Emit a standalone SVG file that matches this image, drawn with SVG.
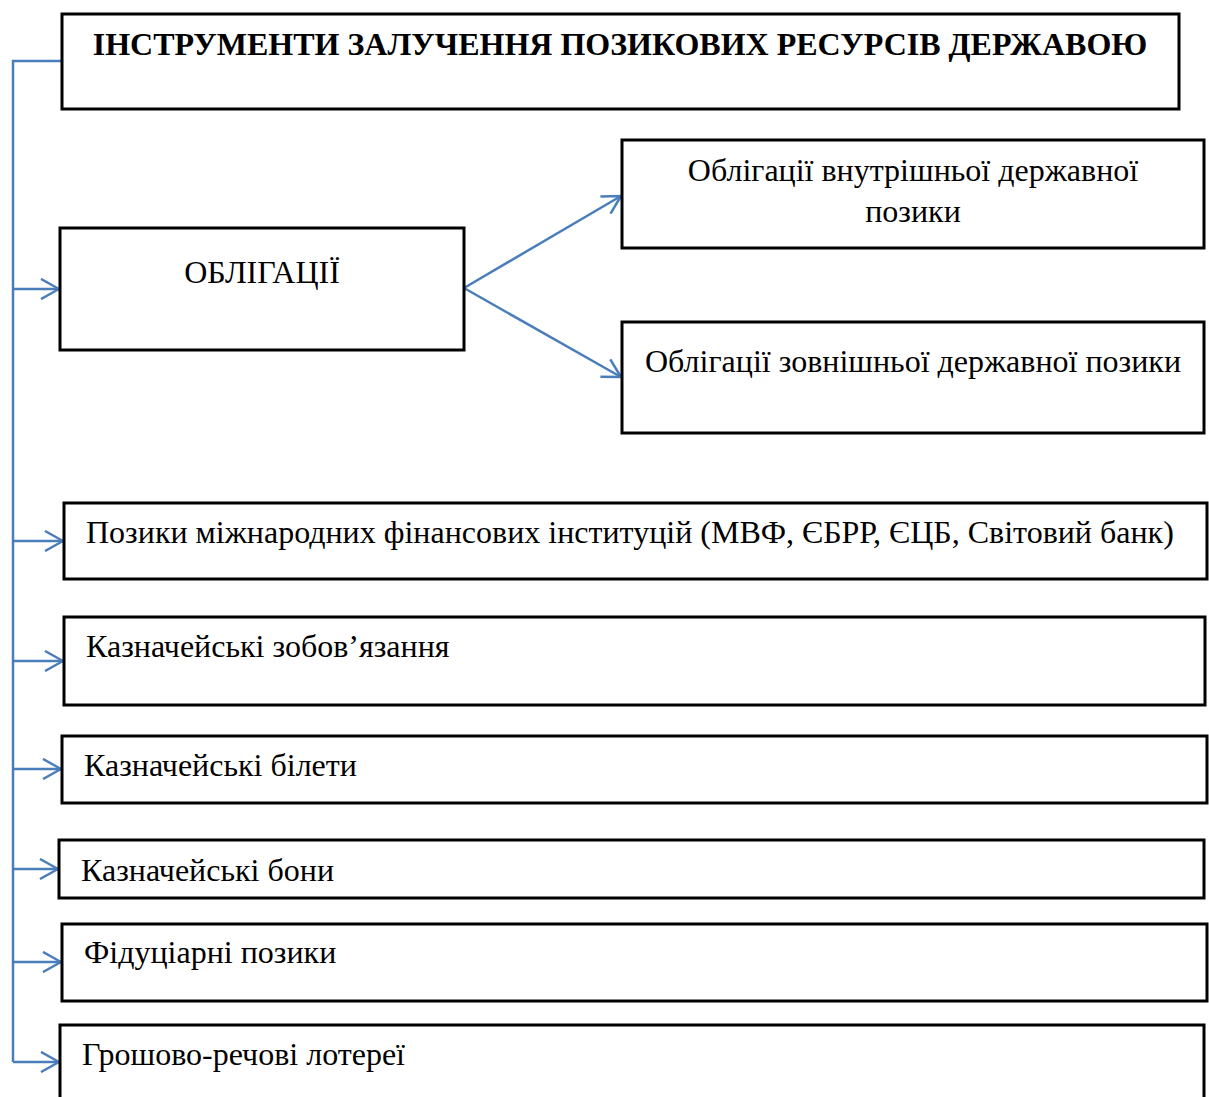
<svg xmlns="http://www.w3.org/2000/svg" width="1209" height="1097" viewBox="0 0 1209 1097">
<defs>
<style>
.box{fill:#fff;stroke:#000;stroke-width:3}
.t{font-family:"Liberation Serif","Times New Roman",serif;font-size:32px;fill:#000}
.b{font-weight:bold}
.c{stroke:#4A7EBB;stroke-width:2.5;fill:none}
</style>
<marker id="arr" viewBox="0 0 20 22" refX="19" refY="11" markerWidth="20" markerHeight="22" markerUnits="userSpaceOnUse" orient="auto">
<path d="M1,1 L19,11 L1,21" fill="none" stroke="#4A7EBB" stroke-width="2.5"/>
</marker>
</defs>
<rect width="1209" height="1097" fill="#fff"/>
<g id="connectors">
<path class="c" d="M62,61 H13 V1062"/>
<path class="c" d="M13,289 H59" marker-end="url(#arr)"/>
<path class="c" d="M13,541 H63" marker-end="url(#arr)"/>
<path class="c" d="M13,661 H63" marker-end="url(#arr)"/>
<path class="c" d="M13,769 H61" marker-end="url(#arr)"/>
<path class="c" d="M13,869 H58" marker-end="url(#arr)"/>
<path class="c" d="M13,962 H61" marker-end="url(#arr)"/>
<path class="c" d="M13,1062 H59" marker-end="url(#arr)"/>
<path class="c" d="M464,288 L621,196" marker-end="url(#arr)"/>
<path class="c" d="M464,288 L621,377" marker-end="url(#arr)"/>
</g>
<g id="title">
<rect class="box" x="62" y="14" width="1117" height="95"/>
<text class="t b" x="620" y="55" text-anchor="middle">ІНСТРУМЕНТИ ЗАЛУЧЕННЯ ПОЗИКОВИХ РЕСУРСІВ ДЕРЖАВОЮ</text>
</g>
<g id="obligacii">
<rect class="box" x="60" y="228" width="404" height="122"/>
<text class="t" x="262" y="283" text-anchor="middle">ОБЛІГАЦІЇ</text>
</g>
<g id="vnutrishni">
<rect class="box" x="622" y="140" width="582" height="108"/>
<text class="t" x="913" y="181" text-anchor="middle">Облігації внутрішньої державної</text>
<text class="t" x="913" y="222" text-anchor="middle">позики</text>
</g>
<g id="zovnishni">
<rect class="box" x="622" y="322" width="582" height="111"/>
<text class="t" x="913" y="372" text-anchor="middle">Облігації зовнішньої державної позики</text>
</g>
<g id="pozyky">
<rect class="box" x="64" y="503" width="1143" height="76"/>
<text class="t" x="86" y="543">Позики міжнародних фінансових інституцій (МВФ, ЄБРР, ЄЦБ, Світовий банк)</text>
</g>
<g id="zobovyazannya">
<rect class="box" x="64" y="617" width="1141" height="88"/>
<text class="t" x="86" y="657">Казначейські зобов’язання</text>
</g>
<g id="bilety">
<rect class="box" x="62" y="736" width="1145" height="67"/>
<text class="t" x="84" y="776">Казначейські білети</text>
</g>
<g id="bony">
<rect class="box" x="59" y="840" width="1145" height="58"/>
<text class="t" x="81" y="881">Казначейські бони</text>
</g>
<g id="fiduciarni">
<rect class="box" x="62" y="924" width="1145" height="77"/>
<text class="t" x="84" y="963">Фідуціарні позики</text>
</g>
<g id="loterei">
<rect class="box" x="60" y="1025" width="1144" height="90"/>
<text class="t" x="82" y="1065">Грошово-речові лотереї</text>
</g>
</svg>
